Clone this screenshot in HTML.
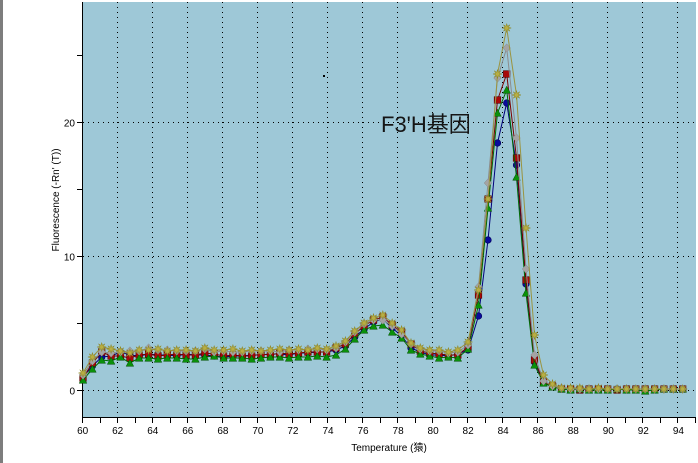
<!DOCTYPE html>
<html><head><meta charset="utf-8"><style>
html,body{margin:0;padding:0;background:#fff;}
svg{display:block;}
text{font-family:"Liberation Sans","Noto Sans CJK SC",sans-serif;}
</style></head><body>
<svg width="698" height="463" viewBox="0 0 698 463" xmlns="http://www.w3.org/2000/svg">
<defs>
<marker id="mb" markerUnits="userSpaceOnUse" markerWidth="10" markerHeight="10" refX="5" refY="5" overflow="visible"><circle cx="5" cy="5" r="3.3" fill="#0a0a9c" stroke="#00005a" stroke-width="0.6"/></marker>
<marker id="mr" markerUnits="userSpaceOnUse" markerWidth="10" markerHeight="10" refX="5" refY="5" overflow="visible"><rect x="1.7" y="1.7" width="6.6" height="6.6" fill="#a80808" stroke="#5a0000" stroke-width="0.6"/></marker>
<marker id="mg" markerUnits="userSpaceOnUse" markerWidth="10" markerHeight="10" refX="5" refY="5" overflow="visible"><polygon points="5,1.2 8.8,8.3 1.2,8.3" fill="#0a900a" stroke="#005000" stroke-width="0.5"/></marker>
<marker id="ma" markerUnits="userSpaceOnUse" markerWidth="10" markerHeight="10" refX="5" refY="5" overflow="visible"><polygon points="5,0.8 8.8,5 5,9.2 1.2,5" fill="#a4a4a4" stroke="#888" stroke-width="0.5"/></marker>
<marker id="mo" markerUnits="userSpaceOnUse" markerWidth="10" markerHeight="10" refX="5" refY="5" overflow="visible"><polygon points="5,0.5 5.7,3.3 8.2,1.8 6.7,4.3 9.5,5 6.7,5.7 8.2,8.2 5.7,6.7 5,9.5 4.3,6.7 1.8,8.2 3.3,5.7 0.5,5 3.3,4.3 1.8,1.8 4.3,3.3" fill="#b8ae44" stroke="#8a8420" stroke-width="0.5"/></marker>
</defs>
<rect x="0" y="0" width="698" height="463" fill="#fff"/>
<rect x="0" y="0" width="3" height="463" fill="#7d7d7d"/>
<rect x="83" y="2" width="613" height="415" fill="#9ec8d7"/>
<g stroke="#000" stroke-width="1" stroke-dasharray="1,4" fill="none">
<path d="M117.5 2V417M152.5 2V417M187.5 2V417M222.5 2V417M257.5 2V417M292.5 2V417M327.5 2V417M362.5 2V417M397.5 2V417M432.5 2V417M467.5 2V417M502.5 2V417M537.5 2V417M572.5 2V417M607.5 2V417M642.5 2V417M677.5 2V417"/>
<path d="M83 390.5H696M83 256.5H696M83 122.5H696"/>
</g>
<g stroke="#000" stroke-width="1" fill="none">
<path d="M82.5 2V417.5H696"/>
<path d="M77 390.5H83M77 323.5H83M77 256.5H83M77 189.5H83M77 122.5H83M77 55.5H83"/>
<path d="M82.5 417V423M100.5 417V423M117.5 417V423M135.5 417V423M152.5 417V423M170.5 417V423M187.5 417V423M205.5 417V423M222.5 417V423M240.5 417V423M257.5 417V423M275.5 417V423M292.5 417V423M310.5 417V423M327.5 417V423M345.5 417V423M362.5 417V423M380.5 417V423M397.5 417V423M415.5 417V423M432.5 417V423M450.5 417V423M467.5 417V423M485.5 417V423M502.5 417V423M520.5 417V423M537.5 417V423M555.5 417V423M572.5 417V423M590.5 417V423M607.5 417V423M625.5 417V423M642.5 417V423M660.5 417V423M677.5 417V423M695.5 417V423"/>
</g>
<g font-size="10" fill="#000" text-anchor="middle">
<text x="82.7" y="434">60</text><text x="117.7" y="434">62</text><text x="152.8" y="434">64</text><text x="187.8" y="434">66</text><text x="222.9" y="434">68</text><text x="257.9" y="434">70</text><text x="292.9" y="434">72</text><text x="328" y="434">74</text><text x="363" y="434">76</text><text x="398.1" y="434">78</text><text x="433.1" y="434">80</text><text x="468.1" y="434">82</text><text x="503.2" y="434">84</text><text x="538.2" y="434">86</text><text x="573.3" y="434">88</text><text x="608.3" y="434">90</text><text x="643.3" y="434">92</text><text x="678.4" y="434">94</text>
</g>
<g font-size="10" fill="#000" text-anchor="end">
<text x="75" y="394.5">0</text><text x="75" y="260.5">10</text><text x="75" y="126.5">20</text>
</g>
<text x="389" y="451" font-size="10" text-anchor="middle" fill="#000">Temperature (猿)</text>
<text transform="translate(59,200) rotate(-90)" font-size="10" text-anchor="middle" fill="#000">Fluorescence (-Rn' (T))</text>
<rect x="323" y="75" width="2" height="2" fill="#000"/>
<g fill="none" stroke-width="1" stroke-linejoin="round">
<polyline stroke="#00007a" marker-start="url(#mb)" marker-mid="url(#mb)" marker-end="url(#mb)" points="83,377 92.4,366 101.7,357 111.1,356 120.5,352 129.9,355 139.2,356 148.6,354 158,355 167.3,355 176.7,356 186.1,354 195.4,355 204.8,355 214.2,356 223.6,357 232.9,356 242.3,356 251.7,355 261,355 270.4,354 279.8,354 289.1,355 298.5,353 307.9,353 317.3,352 326.6,352 336,350 345.4,346 354.7,337 364.1,329 373.5,322 382.8,319 392.2,328 401.6,336 411,348 420.3,352 429.7,355 439.1,355 448.4,356 457.8,354 468,350 478.5,316 488,240 497.5,143 506.7,103 516.5,165 526,284 534.5,362 543.5,382 552.5,386 561.5,389 570.6,389 579.8,389 589,390 598.4,389 607.7,389 617.1,389 626.5,390 635.8,389 645.2,389 654.6,389 663.9,389 673.3,389 682.7,389"/>
<polyline stroke="#7a0000" marker-start="url(#mr)" marker-mid="url(#mr)" marker-end="url(#mr)" points="83,378 92.4,363 101.7,352 111.1,356 120.5,356 129.9,358 139.2,355 148.6,354 158,356 167.3,355 176.7,354 186.1,355 195.4,355 204.8,353 214.2,354 223.6,356 232.9,355 242.3,356 251.7,356 261,354 270.4,355 279.8,353 289.1,354 298.5,353 307.9,352 317.3,352 326.6,352 336,348 345.4,344 354.7,334 364.1,326 373.5,320 382.8,317 392.2,325 401.6,332 411,344 420.3,351 429.7,353 439.1,354 448.4,355 457.8,355 468,347 478.5,295 488,199 497.5,100 506.7,74 516.5,158 526,280 534.5,360 543.5,382 552.5,386 561.5,389 570.6,389 579.8,390 589,389 598.4,389 607.7,389 617.1,390 626.5,389 635.8,389 645.2,389 654.6,389 663.9,389 673.3,389 682.7,389"/>
<polyline stroke="#006a00" marker-start="url(#mg)" marker-mid="url(#mg)" marker-end="url(#mg)" points="83,380 92.4,369 101.7,360 111.1,361 120.5,357 129.9,363 139.2,358 148.6,358 158,359 167.3,358 176.7,358 186.1,359 195.4,359 204.8,357 214.2,356 223.6,358 232.9,358 242.3,358 251.7,359 261,358 270.4,357 279.8,357 289.1,358 298.5,357 307.9,357 317.3,356 326.6,357 336,355 345.4,349 354.7,339 364.1,330 373.5,326 382.8,325 392.2,332 401.6,338 411,350 420.3,354 429.7,356 439.1,358 448.4,357 457.8,358 468,349 478.5,305 488,208 497.5,113 506.7,90 516.5,177 526,293 534.5,365 543.5,383 552.5,387 561.5,389 570.6,390 579.8,389 589,390 598.4,390 607.7,390 617.1,389 626.5,390 635.8,390 645.2,391 654.6,390 663.9,389 673.3,389 682.7,389"/>
<polyline stroke="#8c8c8c" marker-start="url(#ma)" marker-mid="url(#ma)" marker-end="url(#ma)" points="83,375 92.4,361 101.7,352 111.1,353 120.5,352 129.9,351 139.2,351 148.6,348 158,350 167.3,350 176.7,351 186.1,351 195.4,351 204.8,349 214.2,352 223.6,351 232.9,352 242.3,352 251.7,351 261,351 270.4,351 279.8,352 289.1,350 298.5,350 307.9,349 317.3,349 326.6,350 336,348 345.4,342 354.7,332 364.1,324 373.5,320 382.8,320 392.2,326 401.6,334 411,344 420.3,349 429.7,351 439.1,351 448.4,353 457.8,352 468,345 478.5,287 488,183 497.5,78 506.7,48 516.5,138 526,269 534.5,355 543.5,381 552.5,386 561.5,388 570.6,389 579.8,389 589,389 598.4,389 607.7,389 617.1,389 626.5,389 635.8,389 645.2,389 654.6,389 663.9,389 673.3,389 682.7,389"/>
<polyline stroke="#9a9440" marker-start="url(#mo)" marker-mid="url(#mo)" marker-end="url(#mo)" points="83,373 92.4,357 101.7,347 111.1,349 120.5,351 129.9,353 139.2,350 148.6,350 158,349 167.3,351 176.7,350 186.1,350 195.4,351 204.8,348 214.2,350 223.6,350 232.9,349 242.3,351 251.7,350 261,351 270.4,350 279.8,349 289.1,350 298.5,349 307.9,350 317.3,348 326.6,349 336,346 345.4,341 354.7,331 364.1,323 373.5,318 382.8,315 392.2,323 401.6,330 411,343 420.3,348 429.7,350 439.1,350 448.4,352 457.8,350 468,342 478.5,290 488,199 497.5,74 506.7,28 516.5,95 526,228 534.5,335 543.5,375 552.5,384 561.5,388 570.6,388 579.8,388 589,389 598.4,388 607.7,389 617.1,389 626.5,389 635.8,389 645.2,389 654.6,389 663.9,389 673.3,389 682.7,389"/>
</g>
<text x="381" y="132" font-size="22" fill="#151515" font-family="Liberation Sans, Noto Sans CJK SC, sans-serif">F3'H基因</text>
</svg>
</body></html>
